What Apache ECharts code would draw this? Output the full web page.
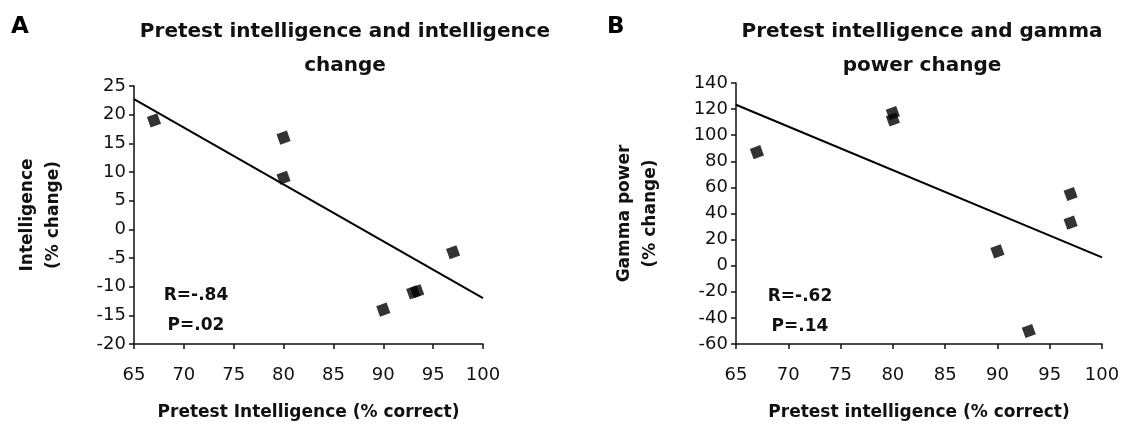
<!DOCTYPE html>
<html>
<head>
<meta charset="utf-8">
<script src="https://cdn.jsdelivr.net/npm/echarts@6/dist/echarts.min.js"></script>
<style>html,body{margin:0;padding:0;background:#fff;}#c{width:1123px;height:427px;}</style>
</head>
<body>
<div id="c"></div>
<script>
// ---- data ----
const xTicks = [65, 70, 75, 80, 85, 90, 95, 100];
const pretestA = [67, 80, 80, 90, 93, 93.4, 97];
const intelChangeA = [19, 16, 9, -14, -11, -10.8, -4];
const trendAx = [65, 100];
const trendAy = [22.7, -12];

const pretestB = [67, 80, 80, 90, 93, 97, 97];
const gammaChangeB = [87, 117, 112, 11, -50, 55, 33];
const trendBx = [65, 100];
const trendBy = [123.3, 6.4];

const statsA = ['R=-.84', 'P=.02'];
const statsB = ['R=-.62', 'P=.14'];
const titleA = 'Pretest intelligence and intelligence\nchange';
const titleB = 'Pretest intelligence and gamma\npower change';

// ---- chart ----
const FONT = 'DejaVu Sans';
const zip = (a, b) => a.map((v, i) => [v, b[i]]);

function xAxisCfg(idx, name) {
  return {
    type: 'value', gridIndex: idx, min: xTicks[0], max: xTicks[xTicks.length - 1], interval: 5,
    name: name, nameLocation: 'middle', nameGap: 60,
    nameTextStyle: { fontFamily: FONT, fontWeight: 'bold', fontSize: 17, color: '#111' },
    axisLine: { show: true, onZero: false, lineStyle: { color: '#111', width: 1.5 } },
    axisTick: { show: true, length: 5, lineStyle: { color: '#111', width: 1.5 } },
    axisLabel: { fontFamily: FONT, fontSize: 18, color: '#111', margin: 22 },
    splitLine: { show: false }
  };
}
function yAxisCfg(idx, min, max, interval, name, gap) {
  return {
    type: 'value', gridIndex: idx, min: min, max: max, interval: interval,
    name: name, nameLocation: 'middle', nameGap: gap, nameRotate: 90,
    nameTextStyle: { fontFamily: FONT, fontWeight: 'bold', fontSize: 17, color: '#111', lineHeight: 26 },
    axisLine: { show: true, onZero: false, lineStyle: { color: '#111', width: 1.5 } },
    axisTick: { show: true, length: 5, lineStyle: { color: '#111', width: 1.5 } },
    axisLabel: { fontFamily: FONT, fontSize: 18, color: '#111', margin: 8 },
    splitLine: { show: false }
  };
}
const markerStyle = { color: '#000' };

const option = {
  animation: false,
  backgroundColor: '#fff',
  title: [
    { text: 'A', left: 11, top: 16, padding: 0, textStyle: { fontFamily: FONT, fontWeight: 'bold', fontSize: 23, color: '#000' } },
    { text: 'B', left: 607, top: 16, padding: 0, textStyle: { fontFamily: FONT, fontWeight: 'bold', fontSize: 23, color: '#000' } },
    { text: titleA, left: 345, textAlign: 'center', top: 15, padding: 0,
      textStyle: { fontFamily: FONT, fontWeight: 'bold', fontSize: 20, lineHeight: 34, color: '#111' } },
    { text: titleB, left: 922, textAlign: 'center', top: 15, padding: 0,
      textStyle: { fontFamily: FONT, fontWeight: 'bold', fontSize: 20, lineHeight: 34, color: '#111' } },
    { text: statsA.join('\n'), left: 196, textAlign: 'center', top: 281, padding: 0,
      textStyle: { fontFamily: FONT, fontWeight: 'bold', fontSize: 17, lineHeight: 30, color: '#111' } },
    { text: statsB.join('\n'), left: 800, textAlign: 'center', top: 282, padding: 0,
      textStyle: { fontFamily: FONT, fontWeight: 'bold', fontSize: 17, lineHeight: 30, color: '#111' } }
  ],
  grid: [
    { left: 134, right: 640, top: 86, bottom: 83 },
    { left: 736, right: 21, top: 83, bottom: 83 }
  ],
  xAxis: [
    xAxisCfg(0, 'Pretest Intelligence (% correct)'),
    xAxisCfg(1, 'Pretest intelligence (% correct)')
  ],
  yAxis: [
    yAxisCfg(0, -20, 25, 5, 'Intelligence\n(% change)', 67),
    yAxisCfg(1, -60, 140, 20, 'Gamma power\n(% change)', 72)
  ],
  series: [
    { type: 'line', xAxisIndex: 0, yAxisIndex: 0, data: zip(trendAx, trendAy), showSymbol: false,
      lineStyle: { color: '#000', width: 2 }, silent: true },
    { type: 'scatter', xAxisIndex: 0, yAxisIndex: 0, data: zip(pretestA, intelChangeA),
      symbol: 'rect', symbolSize: 11, symbolRotate: 20, itemStyle: markerStyle },
    { type: 'line', xAxisIndex: 1, yAxisIndex: 1, data: zip(trendBx, trendBy), showSymbol: false,
      lineStyle: { color: '#000', width: 2 }, silent: true },
    { type: 'scatter', xAxisIndex: 1, yAxisIndex: 1, data: zip(pretestB, gammaChangeB),
      symbol: 'rect', symbolSize: 11, symbolRotate: 20, itemStyle: markerStyle }
  ]
};
echarts.init(document.getElementById('c'), null, { renderer: 'canvas' }).setOption(option);
</script>
</body>
</html>
